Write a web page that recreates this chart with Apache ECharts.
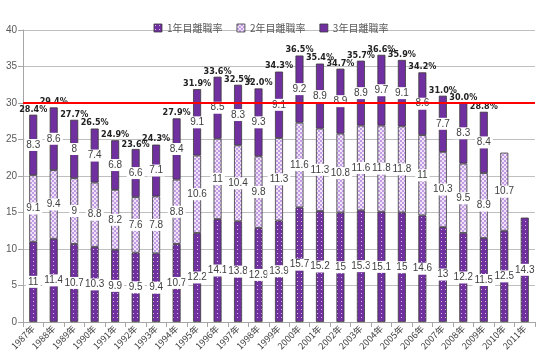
<!DOCTYPE html>
<html><head><meta charset="utf-8">
<script src="https://cdn.jsdelivr.net/npm/echarts@6/dist/echarts.min.js"></script>
<style>html,body{margin:0;padding:0;background:#fff}#c{width:542px;height:361px}</style>
</head><body><div id="c"></div>
<script>
const years = ['1987年','1988年','1989年','1990年','1991年','1992年','1993年','1994年','1995年','1996年','1997年','1998年','1999年','2000年','2001年','2002年','2003年','2004年','2005年','2006年','2007年','2008年','2009年','2010年','2011年'];
const year1 = [11,11.4,10.7,10.3,9.9,9.5,9.4,10.7,12.2,14.1,13.8,12.9,13.9,15.7,15.2,15,15.3,15.1,15,14.6,13,12.2,11.5,12.5,14.3];
const year2 = [9.1,9.4,9,8.8,8.2,7.6,7.8,8.8,10.6,11,10.4,9.8,11.3,11.6,11.3,10.8,11.6,11.8,11.8,11,10.3,9.5,8.9,10.7,null];
const year3 = [8.3,8.6,8,7.4,6.8,6.6,7.1,8.4,9.1,8.5,8.3,9.3,9.1,9.2,8.9,8.9,8.9,9.7,9.1,8.6,7.7,8.3,8.4,null,null];
const totals = [28.4,29.4,27.7,26.5,24.9,23.6,24.3,27.9,31.9,33.6,32.5,32.0,34.3,36.5,35.4,34.7,35.7,36.6,35.9,34.2,31.0,30.0,28.8,null,null];
const yTicks = [0,5,10,15,20,25,30,35,40];
const seriesNames = ['1年目離職率','2年目離職率','3年目離職率'];

function dotPattern(){
  const c=document.createElement('canvas');c.width=4;c.height=4;
  const g=c.getContext('2d');g.fillStyle='#7030A0';g.fillRect(0,0,4,4);
  g.fillStyle='rgba(255,255,255,0.7)';g.fillRect(1,1,1,1);
  return {image:c,repeat:'repeat'};
}
function checkPattern(){
  const c=document.createElement('canvas');c.width=4;c.height=4;
  const g=c.getContext('2d');g.fillStyle='#EFE4F8';g.fillRect(0,0,4,4);
  g.fillStyle='#C29CE2';g.fillRect(0,0,2,2);g.fillRect(2,2,2,2);
  return {image:c,repeat:'repeat'};
}
const chart = echarts.init(document.getElementById('c'),null,{renderer:'canvas'});
const inLabel = {show:true,position:'inside',color:'#404040',fontSize:10,fontFamily:'Liberation Sans, Arial, sans-serif',
  backgroundColor:'#fff',padding:[1,2],formatter:p=>p.value==null?'':String(p.value)};
const fills=[dotPattern(),checkPattern(),'#7030A0'];
const datas=[year1,year2,year3];
const series = datas.map((d,i)=>({
  name:seriesNames[i],type:'bar',stack:'a',data:d,barWidth:8,
  itemStyle:{color:fills[i],borderColor:'#3a3a3a',borderWidth:0.8},
  label:inLabel
}));
series[2].markLine={silent:true,symbol:'none',label:{show:false},
  lineStyle:{color:'#FF0000',width:2,type:'solid'},data:[{yAxis:30}]};
series.push({name:'total',type:'line',data:totals,symbol:'circle',symbolSize:0,showSymbol:true,
  lineStyle:{opacity:0},itemStyle:{color:'transparent'},
  label:{show:true,position:'top',distance:1,fontSize:9,fontWeight:'bold',color:'#222',
    fontFamily:'DejaVu Sans Condensed, Liberation Sans Narrow, sans-serif',
    formatter:p=>p.value==null?'':p.value.toFixed(1)+'%'}});
chart.setOption({
  animation:false,
  legend:{data:seriesNames,top:18,left:'center',icon:'rect',itemWidth:8,itemHeight:8,itemGap:14,
    itemStyle:{borderColor:'#3a3a3a',borderWidth:0.8},
    textStyle:{fontSize:10,color:'#595959',fontFamily:'Noto Sans CJK JP, sans-serif'}},
  grid:{left:23,right:7,top:30,bottom:39},
  xAxis:{type:'category',data:years,
    axisLine:{lineStyle:{color:'#a6a6a6'}},axisTick:{show:true,alignWithLabel:false,lineStyle:{color:'#a6a6a6'}},
    axisLabel:{rotate:45,fontSize:9,color:'#404040',margin:5,interval:0,fontFamily:'Noto Sans CJK JP, sans-serif'}},
  yAxis:{type:'value',min:yTicks[0],max:yTicks[yTicks.length-1],interval:5,
    axisLine:{show:true,lineStyle:{color:'#a6a6a6'}},axisTick:{show:true,lineStyle:{color:'#a6a6a6'}},
    splitLine:{lineStyle:{color:'#bfbfbf'}},
    axisLabel:{fontSize:10,color:'#595959',margin:6,fontFamily:'Liberation Sans, Arial, sans-serif'}},
  series:series
});
</script></body></html>
